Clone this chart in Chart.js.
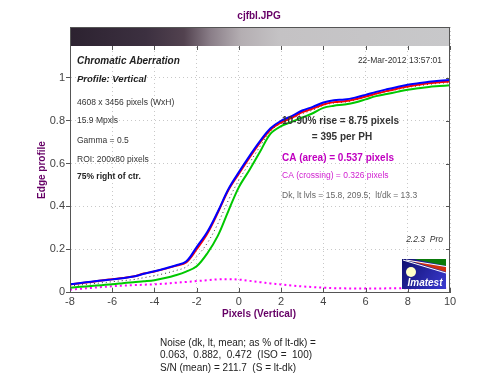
<!DOCTYPE html>
<html>
<head>
<meta charset="utf-8">
<script src="https://cdn.jsdelivr.net/npm/chart.js@4.4.1/dist/chart.umd.min.js"></script>
<style>
  html, body { margin: 0; background: #fff; }
</style>
</head>
<body>
<canvas id="chart" width="500" height="384"></canvas>
<script>
// edge profile, sampled every half pixel
const pixels = [-8,-7.5,-7,-6.5,-6,-5.5,-5,-4.5,-4,-3.5,-3,-2.5,-2,-1.5,-1,-0.5,0,0.5,1,1.5,2,2.5,3,3.5,4,4.5,5,5.5,6,6.5,7,7.5,8,8.5,9,9.5,10];
const blueProfile = [0.036,0.042,0.048,0.054,0.059,0.064,0.072,0.085,0.097,0.110,0.124,0.142,0.210,0.280,0.375,0.480,0.560,0.635,0.705,0.765,0.800,0.822,0.848,0.865,0.885,0.896,0.899,0.908,0.921,0.935,0.947,0.958,0.968,0.975,0.982,0.987,0.990];
const redProfile = [0.035,0.041,0.047,0.054,0.060,0.065,0.072,0.086,0.096,0.108,0.122,0.138,0.200,0.272,0.370,0.475,0.553,0.628,0.698,0.758,0.792,0.814,0.840,0.857,0.876,0.887,0.891,0.900,0.913,0.927,0.939,0.950,0.960,0.968,0.975,0.980,0.983];
const greenProfile = [0.020,0.024,0.028,0.032,0.036,0.041,0.046,0.050,0.055,0.065,0.078,0.095,0.120,0.180,0.262,0.378,0.490,0.570,0.655,0.740,0.775,0.795,0.815,0.835,0.860,0.870,0.876,0.885,0.900,0.915,0.925,0.935,0.945,0.952,0.958,0.962,0.966];
const meanProfile = [0.028,0.033,0.038,0.043,0.048,0.053,0.058,0.067,0.076,0.087,0.100,0.117,0.165,0.228,0.318,0.428,0.523,0.602,0.680,0.752,0.788,0.808,0.833,0.850,0.872,0.883,0.887,0.896,0.910,0.925,0.936,0.946,0.956,0.963,0.970,0.975,0.978];
const caDiff = [0.011,0.015,0.019,0.023,0.027,0.030,0.032,0.034,0.036,0.039,0.043,0.047,0.051,0.055,0.059,0.060,0.058,0.052,0.046,0.040,0.035,0.030,0.026,0.023,0.020,0.018,0.017,0.016,0.016,0.016,0.017,0.017,0.018,0.018,0.019,0.019,0.019];

const xTicks = [-8,-6,-4,-2,0,2,4,6,8,10];
const yTicks = [0,0.2,0.4,0.6,0.8,1];
const yTickLabels = ['0','0.2','0.4','0.6','0.8','1'];

const infoLines = ['4608 x 3456 pixels (WxH)', '15.9 Mpxls', 'Gamma = 0.5', 'ROI: 200x80 pixels'];
const noiseLines = ['Noise (dk, lt, mean; as % of lt-dk) =', '0.063,  0.882,  0.472  (ISO =  100)', 'S/N (mean) = 211.7  (S = lt-dk)'];

const FONT = "'Liberation Sans', Arial, sans-serif";
const PURPLE = '#660066';

function txt(ctx, s, x, y, font, color, align) {
  ctx.font = font + ' ' + FONT;
  ctx.fillStyle = color;
  ctx.textAlign = align || 'left';
  ctx.textBaseline = 'middle';
  ctx.fillText(s, x, y);
}

const decor = {
  id: 'decor',
  beforeDatasetsDraw(chart) {
    const { ctx, chartArea: a, scales } = chart;
    ctx.save();
    // grey-level strip along the top
    const g = ctx.createLinearGradient(a.left, 0, a.right, 0);
    g.addColorStop(0, '#2c2230');
    g.addColorStop(0.2, '#3c3040');
    g.addColorStop(0.3, '#52424f');
    g.addColorStop(0.37, '#8a7e88');
    g.addColorStop(0.45, '#b4aeb2');
    g.addColorStop(0.55, '#c4c2c4');
    g.addColorStop(1, '#c8c8ca');
    ctx.fillStyle = g;
    ctx.fillRect(a.left, a.top, a.right - a.left, 19);
    ctx.strokeStyle = '#555';
    ctx.lineWidth = 1;
    ctx.beginPath();
    xTicks.forEach(v => {
      const x = Math.round(scales.x.getPixelForValue(v)) + 0.5;
      ctx.moveTo(x, a.top + 19); ctx.lineTo(x, a.top + 23);
      ctx.moveTo(x, a.bottom); ctx.lineTo(x, a.bottom - 4);
    });
    yTicks.forEach(v => {
      const y = Math.round(scales.y.getPixelForValue(v)) + 0.5;
      ctx.moveTo(a.right, y); ctx.lineTo(a.right - 4, y);
    });
    ctx.stroke();
    ctx.restore();
  },
  afterDraw(chart) {
    const { ctx, chartArea: a } = chart;
    ctx.save();
    ctx.strokeStyle = '#555';
    ctx.lineWidth = 1;
    ctx.strokeRect(a.left + 0.5, a.top + 0.5, a.right - a.left - 1, a.bottom - a.top);

    txt(ctx, 'cjfbl.JPG', 259, 16, 'bold 10px', PURPLE, 'center');
    txt(ctx, 'Pixels (Vertical)', 259, 314, 'bold 10px', PURPLE, 'center');
    ctx.save();
    ctx.translate(42, 170);
    ctx.rotate(-Math.PI / 2);
    txt(ctx, 'Edge profile', 0, 0, 'bold 10px', PURPLE, 'center');
    ctx.restore();

    txt(ctx, 'Chromatic Aberration', 77, 61, 'italic bold 10px', '#222');
    txt(ctx, 'Profile: Vertical', 77, 79, 'italic bold 9.5px', '#222');
    [103, 121, 141, 160].forEach((y, i) => txt(ctx, infoLines[i], 77, y, '8.5px', '#333'));
    txt(ctx, '75% right of ctr.', 77, 177, 'bold 8.5px', '#222');
    txt(ctx, '22-Mar-2012 13:57:01', 442, 61, '8.5px', '#333', 'right');

    txt(ctx, '10-90% rise = 8.75 pixels', 282, 121, 'bold 10px', '#333');
    txt(ctx, '= 395 per PH', 342, 137, 'bold 10px', '#333', 'center');
    txt(ctx, 'CA (area) = 0.537 pixels', 282, 158, 'bold 10px', '#c000c0');
    txt(ctx, 'CA (crossing) = 0.326 pixels', 282, 176, '8.5px', '#d020d0');
    txt(ctx, 'Dk, lt lvls = 15.8, 209.5;  lt/dk = 13.3', 282, 196, '8.5px', '#666');
    txt(ctx, '2.2.3  Pro', 443, 240, 'italic 8.5px', '#333', 'right');

    [343, 355, 368].forEach((y, i) => txt(ctx, noiseLines[i], 160, y, '10px', '#222'));

    // Imatest badge
    const bx = 402, by = 259, bw = 44, bh = 30;
    const bg = ctx.createLinearGradient(bx, by, bx + bw, by + bh);
    bg.addColorStop(0, '#101070');
    bg.addColorStop(1, '#3a3ad0');
    ctx.fillStyle = bg;
    ctx.fillRect(bx, by, bw, bh);
    ctx.fillStyle = '#0a7a0a';
    ctx.beginPath();
    ctx.moveTo(bx + 12, by); ctx.lineTo(bx + bw, by); ctx.lineTo(bx + bw, by + 7); ctx.closePath();
    ctx.fill();
    ctx.fillStyle = '#d03010';
    ctx.beginPath();
    ctx.moveTo(bx + 6, by + 1); ctx.lineTo(bx + bw, by + 8); ctx.lineTo(bx + bw, by + 13); ctx.closePath();
    ctx.fill();
    ctx.strokeStyle = '#ffffff';
    ctx.beginPath();
    ctx.moveTo(bx + 1, by + 1); ctx.lineTo(bx + bw, by + 14);
    ctx.moveTo(bx + 4, by + 1); ctx.lineTo(bx + bw, by + 7.5);
    ctx.stroke();
    ctx.fillStyle = '#ffffc8';
    ctx.beginPath();
    ctx.arc(bx + 9, by + 13, 5, 0, Math.PI * 2);
    ctx.fill();
    txt(ctx, 'Imatest', bx + 23, by + 24, 'italic bold 10px', '#ffffff', 'center');
    ctx.restore();
  }
};

const lineStyle = (label, data, color, width, dash) => ({
  label, data: data.map((v, i) => ({ x: pixels[i], y: v })),
  borderColor: color, borderWidth: width, borderDash: dash || [],
  pointRadius: 0, tension: 0.35, fill: false
});

new Chart(document.getElementById('chart'), {
  type: 'line',
  data: {
    datasets: [
      lineStyle('Blue', blueProfile, '#0000ff', 2),
      lineStyle('Red', redProfile, '#ff0000', 2),
      lineStyle('Green', greenProfile, '#00c800', 2),
      lineStyle('Mean', meanProfile, '#333333', 1, [1, 3]),
      lineStyle('CA', caDiff, '#ff00ff', 2, [2, 3])
    ]
  },
  options: {
    responsive: false,
    animation: false,
    layout: { padding: { top: 27, right: 50, left: 0, bottom: 0 } },
    plugins: { legend: { display: false }, tooltip: { enabled: false } },
    scales: {
      x: {
        type: 'linear', min: -8, max: 10,
        afterBuildTicks: s => { s.ticks = xTicks.map(v => ({ value: v })); },
        afterFit: s => { s.height = 92; },
        ticks: { font: { family: FONT, size: 11 }, color: '#444', padding: 3, maxRotation: 0 },
        grid: { color: '#c8c8c8', drawTicks: false },
        border: { color: '#555', dash: [1, 3] }
      },
      y: {
        type: 'linear', min: 0, max: 1.238,
        afterBuildTicks: s => { s.ticks = yTicks.map(v => ({ value: v })); },
        afterFit: s => { s.width = 70; },
        ticks: { font: { family: FONT, size: 11 }, color: '#444', padding: 1,
                 callback: (v, i) => yTickLabels[i] },
        grid: { color: '#c8c8c8', drawTicks: true, tickLength: 4, tickColor: '#555', tickBorderDash: [] },
        border: { color: '#555', dash: [1, 3] }
      }
    }
  },
  plugins: [decor]
});
</script>
</body>
</html>
